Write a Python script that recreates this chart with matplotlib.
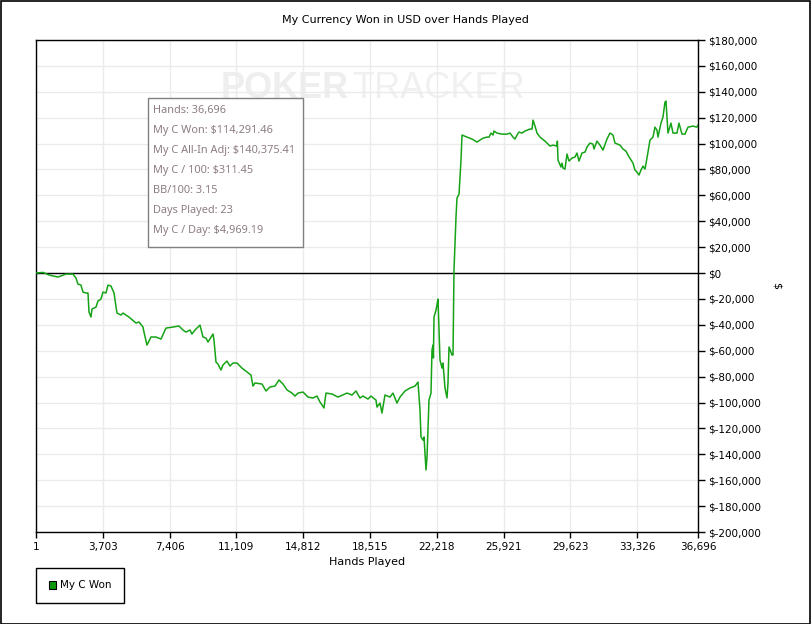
import matplotlib
matplotlib.use("Agg")
import matplotlib.pyplot as plt
from matplotlib.patches import Rectangle, Patch
from matplotlib.ticker import FuncFormatter, FixedLocator, MultipleLocator

# cumulative winnings
hands = [1, 388, 721, 1219, 1663, 2051, 2217, 2328, 2494, 2605, 2772, 2882, 2938, 3049,
         3104, 3326, 3437, 3603, 3714, 3880, 3991, 4157, 4324, 4490, 4712, 4822, 5155,
         5543, 5709, 5931, 5986, 6153, 6374, 6652, 6929, 7206, 7594, 7926, 8148, 8315,
         8536, 8647, 8813, 9091, 9257, 9423, 9534, 9811, 9867, 9977, 10088, 10255, 10365,
         10587, 10753, 10920, 11141, 11419, 11696, 11917, 12028, 12139, 12527, 12749,
         12971, 13248, 13469, 13691, 13913, 14190, 14356, 14523, 14800, 15077, 15354,
         15576, 15742, 15964, 16075, 16407, 16740, 17239, 17516, 17738, 17959, 18126,
         18403, 18569, 18846, 18902, 19068, 19179, 19345, 19622, 19789, 20010, 20177,
         20454, 20732, 21009, 21175, 21286, 21342, 21452, 21508, 21619, 21675, 21785,
         21896, 21951, 22007, 22030, 22062, 22173, 22228, 22284, 22395, 22506, 22561,
         22672, 22783, 22838, 22894, 23060, 23116, 23171, 23282, 23337, 23449, 23559,
         23615, 23892, 24169, 24446, 24612, 24779, 25000, 25111, 25222, 25333, 25388,
         25554, 25831, 26109, 26275, 26441, 26552, 26664, 26775, 26941, 27107, 27384,
         27495, 27550, 27662, 27772, 27939, 28214, 28381, 28492, 28659, 28880, 28900,
         28935, 29101, 29157, 29213, 29323, 29434, 29545, 29711, 29877, 29988, 30099,
         30265, 30431, 30542, 30708, 30875, 30930, 31096, 31263, 31429, 31651, 31817,
         31983, 32094, 32371, 32537, 32704, 32815, 32981, 33092, 33203, 33314, 33425,
         33535, 33646, 33757, 33868, 34034, 34200, 34311, 34422, 34478, 34644, 34755,
         34866, 34921, 35032, 35198, 35309, 35531, 35642, 35808, 35974, 36141, 36418,
         36640, 36696]

won = [0, 500, -1500, -3100, -800, -800, -3900, -8500, -9300, -14700, -15400, -15400,
       -30100, -34000, -27800, -26300, -21600, -20100, -14700, -15400, -9300, -10000,
       -15400, -30900, -32400, -30900, -34000, -38600, -37800, -41700, -45600, -55600,
       -49400, -49400, -51000, -42500, -41700, -40900, -44000, -45600, -44000, -47100,
       -44000, -40200, -49400, -50200, -53300, -47100, -51700, -68700, -70300, -74900,
       -71000, -68000, -71800, -69500, -69500, -73400, -76400, -78800, -87300, -84900,
       -85700, -91100, -88000, -87300, -82600, -85700, -90300, -92700, -95000, -92700,
       -91900, -95800, -96500, -95000, -99600, -104200, -92700, -93400, -95800, -92700,
       -94200, -91100, -96500, -95000, -97300, -95000, -98100, -103500, -100400, -108100,
       -94200, -95800, -92700, -100400, -95800, -91100, -88800, -87300, -84200, -105800,
       -126600, -129000, -126600, -152100, -142100, -98100, -92700, -59500, -55600,
       -65600, -34000, -28600, -24700, -20100, -67200, -73400, -69500, -88800, -96500,
       -84900, -57100, -63300, -63300, 2300, 43200, 57900, 61000, 87300, 106600, 105000,
       103500, 101200, 102700, 104200, 105000, 105000, 108100, 106600, 109700, 108100,
       107300, 107300, 108100, 105000, 103500, 106600, 108900, 108100, 109700, 111200,
       111200, 118100, 113500, 108100, 105000, 101900, 99600, 98100, 98800, 98100,
       101900, 87300, 81900, 84900, 81100, 80300, 91900, 86500, 88800, 89600, 92700,
       86500, 92700, 93400, 97300, 100400, 99600, 95800, 101900, 98800, 95000, 103500,
       108100, 106600, 100400, 98800, 95800, 94200, 91100, 87300, 84900, 79500, 78000,
       75700, 79500, 82600, 80300, 88800, 102700, 105000, 112700, 110400, 105000, 115800,
       120500, 132000, 132800, 108100, 115800, 108100, 108100, 115800, 107300, 107300,
       112700, 113500, 112700, 114291]

x_ticks = [1, 3703, 7406, 11109, 14812, 18515, 22218, 25921, 29623, 33326, 36696]

stats_lines = ["Hands: 36,696",
               "My C Won: $114,291.46",
               "My C All-In Adj: $140,375.41",
               "My C / 100: $311.45",
               "BB/100: 3.15",
               "Days Played: 23",
               "My C / Day: $4,969.19"]

W, H = 811, 624
fig = plt.figure(figsize=(W / 100, H / 100), dpi=100)
fig.patch.set_facecolor("white")

ax = fig.add_axes([36 / W, 1 - 532 / H, (698 - 36) / W, (532 - 40) / H])

# watermark
ax.text(0.472, 0.902, "POKER", transform=ax.transAxes, ha="right", va="center",
        fontsize=26, fontweight="bold", color="#eeeeee", family="Liberation Sans", zorder=0)
ax.text(0.478, 0.902, "TRACKER", transform=ax.transAxes, ha="left", va="center",
        fontsize=26, color="#f0f0f0", family="Liberation Sans", zorder=0)

ax.plot(hands, won, color="#16a316", lw=1.1, zorder=3)
ax.axhline(0, color="black", lw=1, zorder=2)

ax.set_xlim(1, 36696)
ax.set_ylim(-200000, 180000)
ax.xaxis.set_major_locator(FixedLocator(x_ticks))
ax.xaxis.set_major_formatter(FuncFormatter(lambda v, p: f"{int(v):,}"))
ax.yaxis.set_major_locator(MultipleLocator(20000))


def money(v, p):
    return f"${int(v):,}"


ax.yaxis.set_major_formatter(FuncFormatter(money))
ax.yaxis.tick_right()
ax.yaxis.set_label_position("right")
ax.tick_params(axis="both", labelsize=7.5, colors="black", width=1, direction="out")
ax.tick_params(axis="y", length=5, pad=2)
ax.tick_params(axis="x", length=4, pad=3)
ax.grid(True, color="#ebebeb", lw=1, zorder=0)
ax.set_axisbelow(True)
for s in ax.spines.values():
    s.set_color("black")
    s.set_linewidth(1)

ax.set_xlabel("Hands Played", fontsize=8, labelpad=4)
ax.set_ylabel("$", fontsize=8, rotation=270, labelpad=15)
fig.text(0.5, 1 - 20 / H, "My Currency Won in USD over Hands Played", ha="center",
         va="center", fontsize=8)

# stats box
fig.patches.append(Rectangle((148 / W, 1 - 247 / H), 155 / W, 149 / H, transform=fig.transFigure,
                             facecolor="white", edgecolor="#808080", lw=1, zorder=5))
for i, line in enumerate(stats_lines):
    fig.text(153 / W, 1 - (110 + i * 20.1) / H, line, ha="left", va="center", fontsize=7.9,
             color="#8d7d84", family="Noto Sans", zorder=6)

# legend
leg = fig.legend(handles=[Patch(facecolor="#0c9a0c", edgecolor="black", lw=0.8, label="My C Won")],
                 loc="upper left", bbox_to_anchor=(36 / W, 1 - 568 / H), borderaxespad=0,
                 fancybox=False, edgecolor="black", framealpha=1, fontsize=7.5,
                 handlelength=0.7, handleheight=0.7, handletextpad=0.4, borderpad=1.2)
leg.get_frame().set_linewidth(1)

# outer border
fig.patches.append(Rectangle((0.5 / W, 0.5 / H), 1 - 1.5 / W, 1 - 1.5 / H, transform=fig.transFigure,
                             facecolor="none", edgecolor="black", lw=1.2))

fig.savefig("out.png", dpi=100)
